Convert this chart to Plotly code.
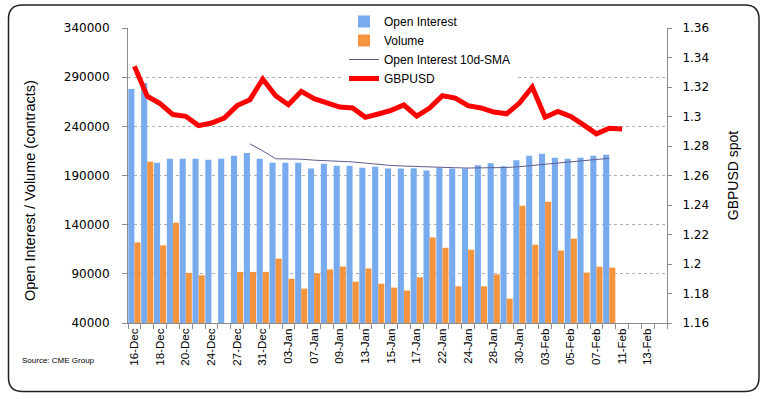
import plotly.graph_objects as go

dates = ["16-Dec", "17-Dec", "18-Dec", "19-Dec", "20-Dec", "23-Dec", "24-Dec", "26-Dec",
         "27-Dec", "30-Dec", "31-Dec", "02-Jan", "03-Jan", "06-Jan", "07-Jan", "08-Jan",
         "09-Jan", "10-Jan", "13-Jan", "14-Jan", "15-Jan", "16-Jan", "17-Jan", "21-Jan",
         "22-Jan", "23-Jan", "24-Jan", "27-Jan", "28-Jan", "29-Jan", "30-Jan", "31-Jan",
         "03-Feb", "04-Feb", "05-Feb", "06-Feb", "07-Feb", "10-Feb", "11-Feb", "12-Feb",
         "13-Feb", "14-Feb"]

tick_labels = ["16-Dec", "18-Dec", "20-Dec", "24-Dec", "27-Dec", "31-Dec", "03-Jan", "07-Jan",
               "09-Jan", "13-Jan", "15-Jan", "17-Jan", "22-Jan", "24-Jan", "28-Jan", "30-Jan",
               "03-Feb", "05-Feb", "07-Feb", "11-Feb", "13-Feb"]

open_interest = [278000, 284000, 203000, 207000, 207000, 207000, 206000, 207000,
                 210000, 213000, 207000, 203000, 203000, 203000, 197000, 202000,
                 200000, 200000, 198000, 199000, 197000, 197000, 197500, 195000,
                 198000, 197000, 197000, 200500, 202500, 199500, 205500, 210000,
                 212000, 208000, 207000, 208000, 210000, 211000]

volume = [122000, 204000, 119000, 142000, 91000, 88500, None, None,
          92000, 92000, 92000, 105500, 85000, 75000, 90500, 94500,
          97500, 82000, 95500, 80000, 76000, 73000, 86500, 127000,
          116500, 77300, 114500, 77300, 89300, 64700, 159300, 119600,
          163400, 113700, 125800, 91300, 97200, 96300]

sma_dates = dates[9:38]
oi_sma_10d = [222200, 215100, 207000, 207000, 206600, 205600, 205100, 204500,
              203800, 202600, 201200, 200200, 199600, 199100, 198300, 198400,
              197900, 197600, 197600, 198100, 198100, 199000, 200300, 201700,
              203000, 203900, 205000, 206300, 207400]

gbpusd = [1.3340, 1.3137, 1.3087, 1.3013, 1.3001, 1.2938, 1.2956, 1.2990,
          1.3074, 1.3114, 1.3254, 1.3141, 1.3080, 1.3171, 1.3121, 1.3096,
          1.3064, 1.3058, 1.2994, 1.3017, 1.3042, 1.3078, 1.3003, 1.3057,
          1.3141, 1.3125, 1.3073, 1.3058, 1.3030, 1.3018, 1.3091, 1.3200,
          1.2995, 1.3034, 1.3000, 1.2943, 1.2882, 1.2920, 1.2916]

BLUE = "#78abee"
ORANGE = "#f5943f"
GRID = "#b0b0b0"
AXIS = "#8c8c8c"

fig = go.Figure()
fig.add_trace(go.Bar(x=dates[:len(open_interest)], y=open_interest, name="Open Interest",
                     marker=dict(color=BLUE, line=dict(width=0))))
fig.add_trace(go.Bar(x=dates[:len(volume)], y=volume, name="Volume",
                     marker=dict(color=ORANGE, line=dict(width=0))))
fig.add_trace(go.Scatter(x=sma_dates, y=oi_sma_10d, name="Open Interest 10d-SMA",
                         mode="lines", line=dict(color="#625c8e", width=1)))
fig.add_trace(go.Scatter(x=dates[:len(gbpusd)], y=gbpusd, name="GBPUSD", yaxis="y2",
                         mode="lines", line=dict(color="#ff0000", width=5)))

L, R, T, B = 128, 100, 28, 76
W, H = 767, 399
pw, ph = W - L - R, H - T - B


def px(xp):
    return (xp - L) / pw


def py(yp):
    return (H - B - yp) / ph


x0, x1, y0, y1 = px(8.5), px(759), py(391.5), py(5)
rx, ry = 14 / pw, 14 / ph
border = (f"M {x0 + rx},{y1} L {x1 - rx},{y1} Q {x1},{y1} {x1},{y1 - ry} "
          f"L {x1},{y0 + ry} Q {x1},{y0} {x1 - rx},{y0} "
          f"L {x0 + rx},{y0} Q {x0},{y0} {x0},{y0 + ry} "
          f"L {x0},{y1 - ry} Q {x0},{y1} {x0 + rx},{y1} Z")

fig.update_layout(
    width=W, height=H,
    margin=dict(l=L, r=R, t=T, b=B, autoexpand=False),
    paper_bgcolor="white", plot_bgcolor="white",
    font=dict(family="Liberation Sans", size=12, color="black"),
    barmode="group", bargap=0.05, bargroupgap=0.0,
    showlegend=True,
    legend=dict(x=px(344), y=py(7), xanchor="left", yanchor="top",
                bgcolor="white", borderwidth=0, traceorder="normal",
                font=dict(family="Liberation Sans", size=12)),
    xaxis=dict(
        type="category", categoryorder="array", categoryarray=dates,
        range=[-0.5, len(dates) - 0.5],
        tickmode="array", tickvals=dates,
        ticktext=[d if d in tick_labels else "" for d in dates],
        tickangle=-90, tickson="boundaries", ticks="outside", ticklen=5,
        tickcolor=AXIS, showline=True, linecolor=AXIS, linewidth=1,
        showgrid=False, tickfont=dict(family="Liberation Sans", size=11.5),
    ),
    yaxis=dict(
        range=[40000, 340000], tick0=40000, dtick=50000, tickformat="d",
        showgrid=True, gridcolor=GRID, griddash="dot", gridwidth=1,
        showline=True, linecolor=AXIS, linewidth=1, ticks="outside", ticklen=5,
        tickcolor=AXIS, ticklabelstandoff=10, zeroline=False,
        tickfont=dict(family="DejaVu Sans", size=12),
    ),
    yaxis2=dict(
        overlaying="y", side="right", range=[1.16, 1.36], tick0=1.16, dtick=0.02,
        showgrid=False, showline=True, linecolor=AXIS, linewidth=1,
        ticks="outside", ticklen=4, tickcolor=AXIS, ticklabelstandoff=8,
        zeroline=False, tickfont=dict(family="DejaVu Sans", size=12),
        title=dict(text="GBPUSD spot", font=dict(family="Liberation Sans", size=14), standoff=20),
    ),
    annotations=[
        dict(text="Open Interest / Volume (contracts)", textangle=-90,
             xref="paper", yref="paper", x=px(30), y=py(191),
             xanchor="center", yanchor="middle", showarrow=False,
             font=dict(family="Liberation Sans", size=14.5)),
        dict(text="Source: CME Group", xref="paper", yref="paper",
             x=px(20), y=py(360), xanchor="left", yanchor="middle", showarrow=False,
             font=dict(family="Liberation Sans", size=8)),
    ],
    shapes=[dict(type="path", xref="paper", yref="paper", path=border,
                 line=dict(color="#222222", width=1.5), layer="above")],
)

fig.write_html("out.html", config={"displayModeBar": False},
               post_script="document.body.style.margin='0';")
